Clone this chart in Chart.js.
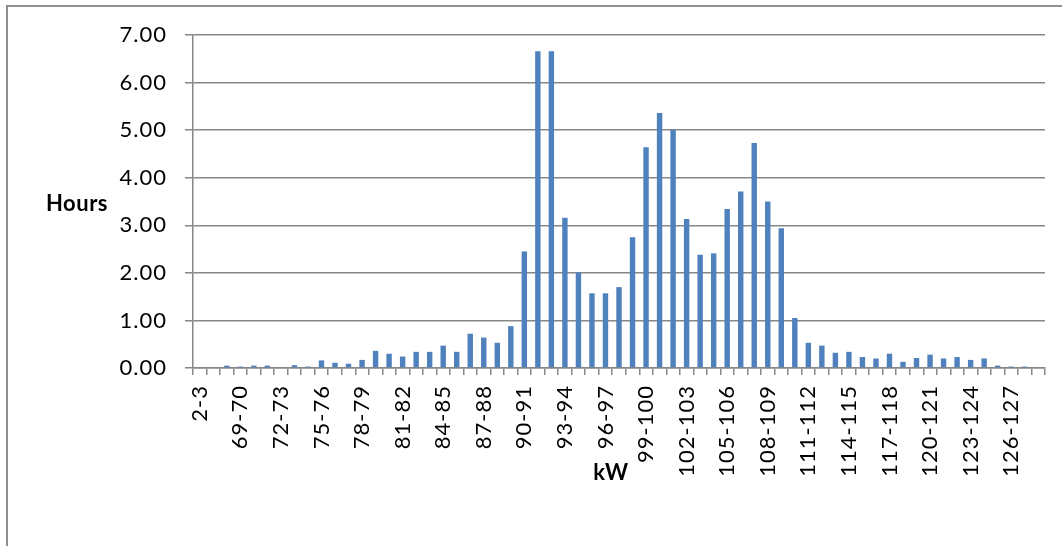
<!DOCTYPE html>
<html>
<head>
<meta charset="utf-8">
<script src="https://cdn.jsdelivr.net/npm/chart.js@4/dist/chart.umd.min.js"></script>
<style>
  html, body { margin: 0; padding: 0; background: #fff; }
  #wrap { width: 1062px; height: 546px; position: relative; }
</style>
</head>
<body>
<div id="wrap"><canvas id="c" width="1062" height="546"></canvas></div>
<script>
// Power bands (kW) and time spent in each band (hours)
const kwBands = [
  "2-3", "67-68", "68-69", "69-70", "70-71", "71-72", "72-73", "73-74", "74-75",
  "75-76", "76-77", "77-78", "78-79", "79-80", "80-81", "81-82", "82-83", "83-84",
  "84-85", "85-86", "86-87", "87-88", "88-89", "89-90", "90-91", "91-92", "92-93",
  "93-94", "94-95", "95-96", "96-97", "97-98", "98-99", "99-100", "100-101", "101-102",
  "102-103", "103-104", "104-105", "105-106", "106-107", "107-108", "108-109", "109-110", "110-111",
  "111-112", "112-113", "113-114", "114-115", "115-116", "116-117", "117-118", "118-119", "119-120",
  "120-121", "121-122", "122-123", "123-124", "124-125", "125-126", "126-127", "127-128", "128-129"
];

const hours = [
  0.02, 0.02, 0.05, 0.03, 0.05, 0.05, 0.02, 0.06, 0.03,
  0.16, 0.11, 0.09, 0.17, 0.36, 0.30, 0.24, 0.34, 0.34,
  0.47, 0.34, 0.72, 0.64, 0.53, 0.88, 2.45, 6.66, 6.66,
  3.16, 2.01, 1.57, 1.57, 1.70, 2.75, 4.64, 5.36, 5.01,
  3.13, 2.38, 2.41, 3.34, 3.71, 4.73, 3.50, 2.94, 1.05,
  0.53, 0.47, 0.32, 0.34, 0.23, 0.20, 0.30, 0.13, 0.21,
  0.28, 0.20, 0.23, 0.17, 0.20, 0.05, 0.03, 0.03, 0.02
];

const yTicks = [0, 1, 2, 3, 4, 5, 6, 7];
const yTitle = "Hours";
const xTitle = "kW";

const FONT = "Lato, 'Open Sans', sans-serif";
const GRID = "#878787";

function spacing(chart) { chart.ctx.letterSpacing = "1px"; }

// Frame around the chart plus the horizontal axis titles
const decorations = {
  id: "decorations",
  beforeUpdate: spacing,
  beforeLayout: spacing,
  beforeDraw(chart) {
    const ctx = chart.ctx;
    spacing(chart);
    ctx.save();
    ctx.fillStyle = "#fff";
    ctx.fillRect(0, 0, chart.width, chart.height);
    ctx.strokeStyle = "#8f8f8f";
    ctx.lineWidth = 2;
    ctx.beginPath();
    ctx.moveTo(7, chart.height);
    ctx.lineTo(7, 6);
    ctx.lineTo(chart.width, 6);
    ctx.stroke();
    ctx.restore();
  },
  afterDraw(chart) {
    const ctx = chart.ctx;
    ctx.save();
    ctx.letterSpacing = "0.5px";
    ctx.fillStyle = "#000";
    ctx.font = "bold 22px " + FONT;
    ctx.textAlign = "center";
    ctx.textBaseline = "alphabetic";
    ctx.fillText(yTitle, 77, 211);
    ctx.fillText(xTitle, 611, 480);
    ctx.restore();
  }
};

const chart = new Chart(document.getElementById("c"), {
  type: "bar",
  data: {
    labels: kwBands,
    datasets: [{
      data: hours,
      backgroundColor: "#4F81BD",
      borderWidth: 0,
      barPercentage: 0.4,
      categoryPercentage: 1.0
    }]
  },
  plugins: [decorations],
  options: {
    responsive: false,
    animation: false,
    devicePixelRatio: 1,
    layout: { padding: { left: 0, top: 35, right: 17, bottom: 0 } },
    plugins: {
      legend: { display: false },
      tooltip: { enabled: false }
    },
    scales: {
      x: {
        afterFit(scale) {
          scale.height = 546 - 368;
          scale.paddingLeft = 0;
          scale.paddingRight = 0;
        },
        grid: {
          offset: true,
          drawOnChartArea: false,
          drawTicks: true,
          tickLength: 7,
          tickColor: GRID,
          lineWidth: 1.5
        },
        border: { display: true, color: GRID, width: 1.5 },
        ticks: {
          autoSkip: false,
          minRotation: 90,
          maxRotation: 90,
          padding: 10,
          color: "#000",
          font: { family: FONT, size: 22 },
          callback(value, index) {
            return index % 3 === 0 ? this.getLabelForValue(value) : "";
          }
        }
      },
      y: {
        min: yTicks[0],
        max: yTicks[yTicks.length - 1],
        afterFit(scale) {
          scale.width = 193;
          scale.paddingTop = 0;
          scale.paddingBottom = 0;
        },
        afterBuildTicks(scale) { scale.ticks = yTicks.map(v => ({ value: v })); },
        grid: {
          color: GRID,
          lineWidth: 1.5,
          drawTicks: true,
          tickLength: 8,
          tickColor: GRID
        },
        border: { display: true, color: GRID, width: 1.5 },
        ticks: {
          padding: 18,
          color: "#000",
          font: { family: FONT, size: 22 },
          callback(v) { return Number(v).toFixed(2); }
        }
      }
    }
  }
});
</script>
</body>
</html>
